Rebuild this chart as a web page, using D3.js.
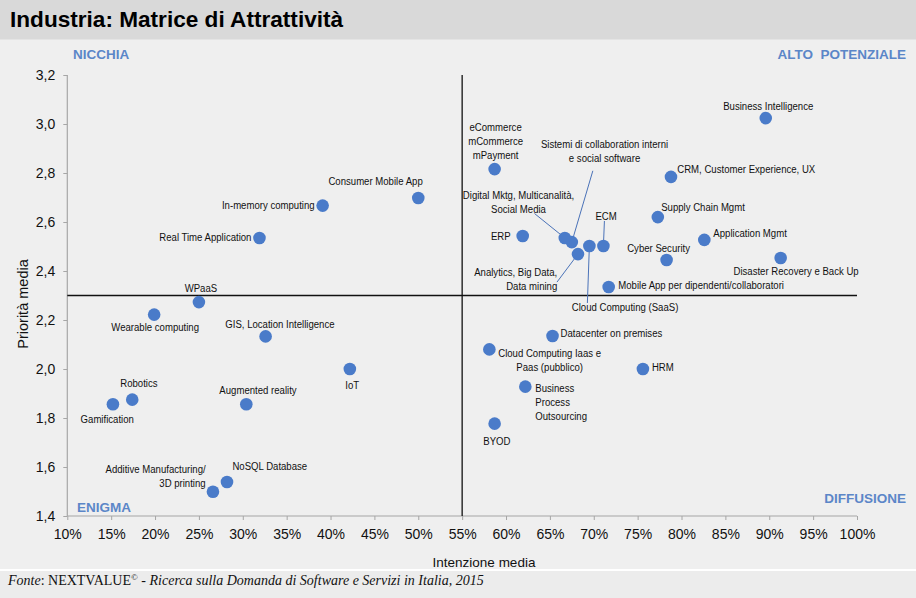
<!DOCTYPE html>
<html>
<head>
<meta charset="utf-8">
<script src="https://cdn.jsdelivr.net/npm/d3@7"></script>
<style>
  html, body { margin: 0; padding: 0; background: #efefef; }
  svg { display: block; }
</style>
</head>
<body>
<svg id="chart" width="916" height="598"></svg>
<script>
// ---------------- DATA ----------------
const title = "Industria: Matrice di Attrattività";
const xAxisTitle = "Intenzione media";
const yAxisTitle = "Priorità media";
const xTicks = [0.10,0.15,0.20,0.25,0.30,0.35,0.40,0.45,0.50,0.55,0.60,0.65,0.70,0.75,0.80,0.85,0.90,0.95,1.00];
const yTicks = [1.4,1.6,1.8,2.0,2.2,2.4,2.6,2.8,3.0,3.2];
const xSplit = 0.55;
const ySplit = 2.3;
const quadrantNames = ["NICCHIA", "ALTO  POTENZIALE", "ENIGMA", "DIFFUSIONE"];

const names = [
  "Business Intelligence", "eCommerce", "CRM", "Sistemi di collaboration", "Supply Chain Mgmt",
  "Application Mgmt", "Disaster Recovery", "Cyber Security", "ERP", "Digital Mktg",
  "Analytics", "ECM", "Cloud Computing (SaaS)", "Mobile App per dipendenti", "Consumer Mobile App",
  "In-memory computing", "Real Time Application", "WPaaS", "Wearable computing", "GIS",
  "IoT", "Robotics", "Gamification", "Augmented reality", "Additive Manufacturing",
  "NoSQL Database", "Datacenter on premises", "Cloud Computing Iaas", "HRM", "BPO", "BYOD"
];
const intenzione = [
  0.896, 0.587, 0.788, 0.675, 0.773,
  0.826, 0.913, 0.783, 0.619, 0.667,
  0.682, 0.711, 0.695, 0.717, 0.500,
  0.391, 0.319, 0.250, 0.199, 0.326,
  0.422, 0.174, 0.152, 0.304, 0.266,
  0.282, 0.653, 0.581, 0.756, 0.622, 0.587
];
const priorita = [
  3.024, 2.816, 2.784, 2.518, 2.620,
  2.527, 2.453, 2.445, 2.543, 2.535,
  2.469, 2.502, 2.502, 2.335, 2.698,
  2.667, 2.535, 2.273, 2.222, 2.133,
  2.000, 1.875, 1.856, 1.856, 1.499,
  1.539, 2.135, 2.080, 2.000, 1.928, 1.777
];
const labelLines = [
  ["Business Intelligence"], ["eCommerce","mCommerce","mPayment"], ["CRM, Customer Experience, UX"],
  ["Sistemi di collaboration interni","e social software"], ["Supply Chain Mgmt"],
  ["Application Mgmt"], ["Disaster Recovery e Back Up"], ["Cyber Security"], ["ERP"],
  ["Digital Mktg, Multicanalità,","Social Media"],
  ["Analytics, Big Data,","Data mining"], ["ECM"], ["Cloud Computing (SaaS)"],
  ["Mobile App per dipendenti/collaboratori"], ["Consumer Mobile App"],
  ["In-memory computing"], ["Real Time Application"], ["WPaaS"], ["Wearable computing"],
  ["GIS, Location Intelligence"], ["IoT"], ["Robotics"], ["Gamification"], ["Augmented reality"],
  ["Additive Manufacturing/","3D printing"], ["NoSQL Database"], ["Datacenter on premises"],
  ["Cloud Computing Iaas e","Paas (pubblico)"], ["HRM"], ["Business","Process","Outsourcing"], ["BYOD"]
];

// ---------------- LAYOUT (label placement, px offsets from dot) ----------------
// [dx, dy(first baseline), anchor, lineHeight, leader(from dx,dy) or null]
const labelLayout = [
  [2.5, -8.5, "middle", 0, null],
  [1, -37.6, "middle", 13.7, null],
  [6.3, -4.4, "start", 0, null],
  [32.7, -94.3, "middle", 14.6, [21, -71.3]],
  [3.4, -5.7, "start", 0, null],
  [9, -2.4, "start", 0, null],
  [15.4, 17.3, "middle", 0, null],
  [-8, -8.3, "middle", 0, null],
  [-12, 4, "end", 0, null],
  [-46.3, -39, "middle", 13.6, [-30.3, -24.4]],
  [-20.7, 22.3, "end", 13.3, [-21, 28]],
  [2.7, -26.4, "middle", 0, [1, -25]],
  [35.7, 65.3, "middle", 0, [-2, 57]],
  [9.6, 1.6, "start", 0, null],
  [-42.7, -13, "middle", 0, null],
  [-8, 3.6, "end", 0, null],
  [-8, 3, "end", 0, null],
  [2, -9.7, "middle", 0, null],
  [1, 16.3, "middle", 0, null],
  [14.3, -8, "middle", 0, null],
  [2.3, 20.3, "middle", 0, null],
  [6.7, -12.4, "middle", 0, null],
  [-5.7, 19, "middle", 0, null],
  [11.7, -10, "middle", 0, null],
  [-7.3, -19, "end", 14, null],
  [5.4, -12, "start", 0, null],
  [8, 1.3, "start", 0, null],
  [60.3, 8, "middle", 14, null],
  [9, 2, "start", 0, null],
  [10, 5.6, "start", 13.7, null],
  [2.3, 21, "middle", 0, null]
];

// ---------------- DRAW ----------------
const W = 916, H = 598;
const svg = d3.select("#chart");
const blue = "#4a7bc9";
const quadColor = "#5b86c8";

// detect narrow font
function narrowAvailable() {
  const c = document.createElement("canvas").getContext("2d");
  const s = "Business Intelligence mmmWWW";
  c.font = "12px monospace"; const a = c.measureText(s).width;
  c.font = "12px 'Liberation Sans Narrow', monospace"; const b = c.measureText(s).width;
  return Math.abs(a - b) > 0.5;
}
const hasNarrow = narrowAvailable();
const labelFont = hasNarrow ? "'Liberation Sans Narrow', 'Arial Narrow', sans-serif" : "'Liberation Sans', Arial, sans-serif";
const labelScale = hasNarrow ? 1 : 0.82;

// backgrounds
svg.append("rect").attr("x",0).attr("y",0).attr("width",W).attr("height",H).attr("fill","#efefef");
svg.append("rect").attr("x",0).attr("y",0).attr("width",W).attr("height",39.5).attr("fill","#d9d9d9");
svg.append("rect").attr("x",0).attr("y",569).attr("width",W).attr("height",2).attr("fill","#ffffff");
svg.append("rect").attr("x",0).attr("y",571).attr("width",W).attr("height",H-571).attr("fill","#ececec");

svg.append("text").attr("x",10).attr("y",27)
  .attr("font-family","'Liberation Sans', Arial, sans-serif").attr("font-weight","bold")
  .attr("font-size",22.6).attr("fill","#000").text(title);

const x = d3.scaleLinear().domain([0.10, 1.00]).range([67.3, 857]);
const y = d3.scaleLinear().domain([1.4, 3.2]).range([516, 75]);

const axisFont = "'Liberation Sans', Arial, sans-serif";
const gx = svg.append("g").attr("transform", `translate(0,${y(1.4)})`)
  .call(d3.axisBottom(x).tickValues(xTicks).tickSize(4).tickPadding(9)
    .tickFormat(d => Math.round(d*100) + "%"));
const gy = svg.append("g").attr("transform", `translate(${x(0.10)},0)`)
  .call(d3.axisLeft(y).tickValues(yTicks).tickSize(4).tickPadding(8)
    .tickFormat(d => d3.format(".1f")(d).replace(".", ",")));
[gx, gy].forEach(g => {
  g.select(".domain").attr("stroke","#a6a6a6").attr("stroke-width",1.2);
  g.selectAll(".tick line").attr("stroke","#a6a6a6");
  g.selectAll(".tick text").attr("font-family",axisFont).attr("font-size",14).attr("fill","#111");
});
gy.select(".domain").attr("d", `M-0,${y(1.4)}V${y(3.2)}`);
gx.select(".domain").attr("d", `M${x(0.10)},0H${x(1.0)}`);

// axis titles
svg.append("text").attr("x", 484).attr("y", 567).attr("text-anchor","middle")
  .attr("font-family",axisFont).attr("font-size",13.5).attr("fill","#111").text(xAxisTitle);
svg.append("text").attr("transform","translate(28,304) rotate(-90)").attr("text-anchor","middle")
  .attr("font-family",axisFont).attr("font-size",14.5).attr("fill","#111").text(yAxisTitle);

// split lines
svg.append("line").attr("x1",x(0.10)).attr("x2",x(1.0)).attr("y1",y(ySplit)).attr("y2",y(ySplit))
  .attr("stroke","#111").attr("stroke-width",1.3);
svg.append("line").attr("x1",x(xSplit)).attr("x2",x(xSplit)).attr("y1",y(3.2)).attr("y2",y(1.4))
  .attr("stroke","#111").attr("stroke-width",1.3);

// quadrant names
const qPos = [[73,59,"start"],[906,59,"end"],[77,512,"start"],[906,503,"end"]];
quadrantNames.forEach((q,i) => {
  svg.append("text").attr("x",qPos[i][0]).attr("y",qPos[i][1]).attr("text-anchor",qPos[i][2])
    .attr("font-family",axisFont).attr("font-weight","bold").attr("font-size",13.5)
    .attr("fill",quadColor).style("white-space","pre").attr("xml:space","preserve").text(q);
});

// leaders
const pts = names.map((n,i) => ({name:n, x:intenzione[i], y:priorita[i], lines:labelLines[i], lay:labelLayout[i]}));
svg.append("g").selectAll("line").data(pts.filter(p => p.lay[4])).join("line")
  .attr("x1", d => x(d.x) + d.lay[4][0]).attr("y1", d => y(d.y) + d.lay[4][1])
  .attr("x2", d => x(d.x)).attr("y2", d => y(d.y))
  .attr("stroke","#4a72b8").attr("stroke-width",1);

// dots
svg.append("g").selectAll("circle").data(pts).join("circle")
  .attr("cx", d => x(d.x)).attr("cy", d => y(d.y)).attr("r", 6.3).attr("fill", blue);

// labels
const lg = svg.append("g");
pts.forEach(p => {
  const [dx, dy, anchor, lh] = p.lay;
  p.lines.forEach((ln, k) => {
    lg.append("text")
      .attr("transform", `translate(${x(p.x)+dx},${y(p.y)+dy+k*lh}) scale(${labelScale},1)`)
      .attr("text-anchor", anchor)
      .attr("font-family", labelFont).attr("font-size", 11.7).attr("fill","#111")
      .text(ln);
  });
});

// footer
const ft = svg.append("text").attr("x",8).attr("y",584.5)
  .attr("font-family","'Liberation Serif', 'Times New Roman', serif").attr("font-size",14).attr("fill","#111");
ft.append("tspan").attr("font-style","italic").text("Fonte");
ft.append("tspan").text(": NEXTVALUE");
ft.append("tspan").attr("font-size",9).attr("dy",-5).text("©");
ft.append("tspan").attr("dy",5).text(" - ");
ft.append("tspan").attr("font-style","italic").text("Ricerca sulla Domanda di Software e Servizi in Italia, 2015");
</script>
</body>
</html>
